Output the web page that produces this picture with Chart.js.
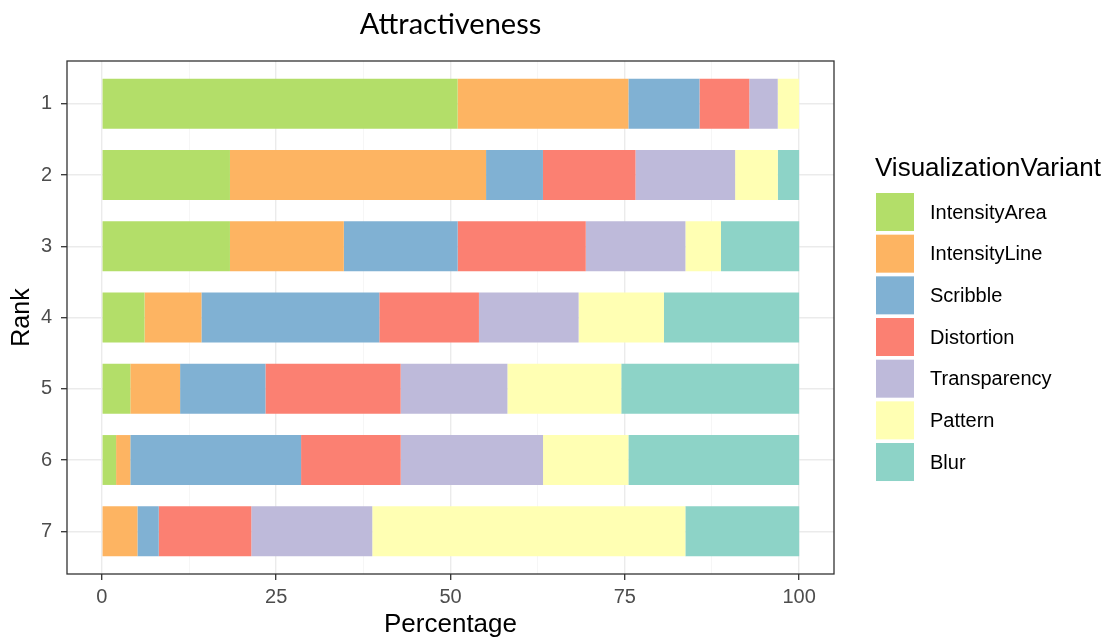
<!DOCTYPE html>
<html>
<head>
<meta charset="utf-8">
<script src="https://cdn.jsdelivr.net/npm/chart.js@4"></script>
<style>
  body { margin: 0; background: #fff; }
  #wrap { width: 1109px; height: 641px; position: relative; }
</style>
</head>
<body>
<div id="wrap"><canvas id="chart"></canvas></div>
<script>
// percentages per rank (rank 1..7), one array per variant
const ranks = [1, 2, 3, 4, 5, 6, 7];
const variants = ["IntensityArea", "IntensityLine", "Scribble", "Distortion", "Transparency", "Pattern", "Blur"];
const intensityArea = [51.02, 18.37, 18.37, 6.12, 4.08, 2.04, 0];
const intensityLine = [24.49, 36.73, 16.33, 8.16, 7.14, 2.04, 5.10];
const scribble = [10.20, 8.16, 16.33, 25.51, 12.24, 24.49, 3.06];
const distortion = [7.14, 13.27, 18.37, 14.29, 19.39, 14.29, 13.27];
const transparency = [4.08, 14.29, 14.29, 14.29, 15.31, 20.41, 17.35];
const pattern = [3.06, 6.12, 5.10, 12.24, 16.33, 12.24, 44.90];
const blur = [0, 3.06, 11.22, 19.39, 25.51, 24.49, 16.33];
const xTicks = [0, 25, 50, 75, 100];

const series = [intensityArea, intensityLine, scribble, distortion, transparency, pattern, blur];
const palette = ["#B3DE69", "#FDB462", "#80B1D3", "#FB8072", "#BEBADA", "#FFFFB3", "#8DD3C7"];

const sans = '"Liberation Sans", Arial, sans-serif';
const gridMajor = "#EBEBEB";
const gridMinor = "#F4F4F4";

// every 12.5: majors get labels, the rest are minor grid lines
const xGrid = [];
xTicks.forEach((v, i) => {
  xGrid.push(v);
  if (i < xTicks.length - 1) xGrid.push((v + xTicks[i + 1]) / 2);
});
const isMajor = (v) => xTicks.includes(v);

const datasets = variants.map((name, i) => ({
  label: name,
  data: ranks.map((r, j) => ({ x: series[i][j], y: r })),
  backgroundColor: palette[i],
  borderWidth: 0,
  barPercentage: 0.7,
  categoryPercentage: 1
}));

// panel border + legend on the right
const panelAndLegend = {
  id: "panelAndLegend",
  afterDraw(chart) {
    const { ctx, chartArea: a } = chart;
    ctx.save();
    ctx.strokeStyle = "#333333";
    ctx.lineWidth = 1.3;
    ctx.strokeRect(a.left, a.top, a.right - a.left, a.bottom - a.top);

    const x0 = a.right + 42;
    ctx.fillStyle = "#000";
    ctx.font = "26px " + sans;
    ctx.textBaseline = "alphabetic";
    ctx.fillText("VisualizationVariant", x0 - 1, 176);

    ctx.font = "20px " + sans;
    ctx.textBaseline = "middle";
    chart.data.datasets.forEach((ds, i) => {
      const y = 193 + i * 41.67;
      ctx.fillStyle = ds.backgroundColor;
      ctx.fillRect(x0, y, 38, 38);
      ctx.fillStyle = "#000";
      ctx.fillText(ds.label, x0 + 54, y + 20);
    });
    ctx.restore();
  }
};

new Chart(document.getElementById("chart"), {
  type: "bar",
  data: { datasets },
  plugins: [panelAndLegend],
  options: {
    indexAxis: "y",
    responsive: true,
    maintainAspectRatio: false,
    animation: false,
    layout: { padding: { left: 0, right: 275, top: 0, bottom: 0 } },
    plugins: {
      legend: { display: false },
      tooltip: { enabled: false },
      title: {
        display: true,
        fullSize: false,
        text: "Attractiveness",
        color: "#000",
        font: { family: "Lato, sans-serif", size: 29, weight: "normal" },
        padding: { top: 7, bottom: 19.2 }
      }
    },
    scales: {
      x: {
        type: "linear",
        stacked: true,
        min: -5,
        max: 105,
        afterBuildTicks: (s) => { s.ticks = xGrid.map((v) => ({ value: v })); },
        afterFit: (s) => { s.height = 67; },
        border: { display: false },
        grid: {
          color: (c) => (isMajor(c.tick.value) ? gridMajor : gridMinor),
          lineWidth: (c) => (isMajor(c.tick.value) ? 1.4 : 0.8),
          tickColor: (c) => (isMajor(c.tick.value) ? "#333333" : "rgba(0,0,0,0)"),
          tickWidth: 1.3,
          tickLength: 6
        },
        ticks: {
          autoSkip: false,
          maxRotation: 0,
          padding: 5,
          color: "#4D4D4D",
          font: { family: sans, size: 20 },
          callback: (v) => (isMajor(v) ? String(v) : "")
        },
        title: {
          display: true,
          text: "Percentage",
          color: "#000",
          font: { family: sans, size: 26 },
          padding: { top: 0, bottom: 1 }
        }
      },
      y: {
        type: "linear",
        stacked: true,
        reverse: true,
        offset: false,
        min: 0.4,
        max: 7.6,
        afterBuildTicks: (s) => { s.ticks = ranks.map((r) => ({ value: r })); },
        afterFit: (s) => { s.width = 67; },
        border: { display: false },
        grid: {
          offset: false,
          color: gridMajor,
          lineWidth: 1.4,
          tickColor: "#333333",
          tickWidth: 1.3,
          tickLength: 6
        },
        ticks: {
          autoSkip: false,
          padding: 9,
          color: "#4D4D4D",
          font: { family: sans, size: 20 },
          callback: (v) => String(v)
        },
        title: {
          display: true,
          text: "Rank",
          color: "#000",
          font: { family: sans, size: 25 },
          padding: { top: 7, bottom: 0 }
        }
      }
    }
  }
});
</script>
</body>
</html>
